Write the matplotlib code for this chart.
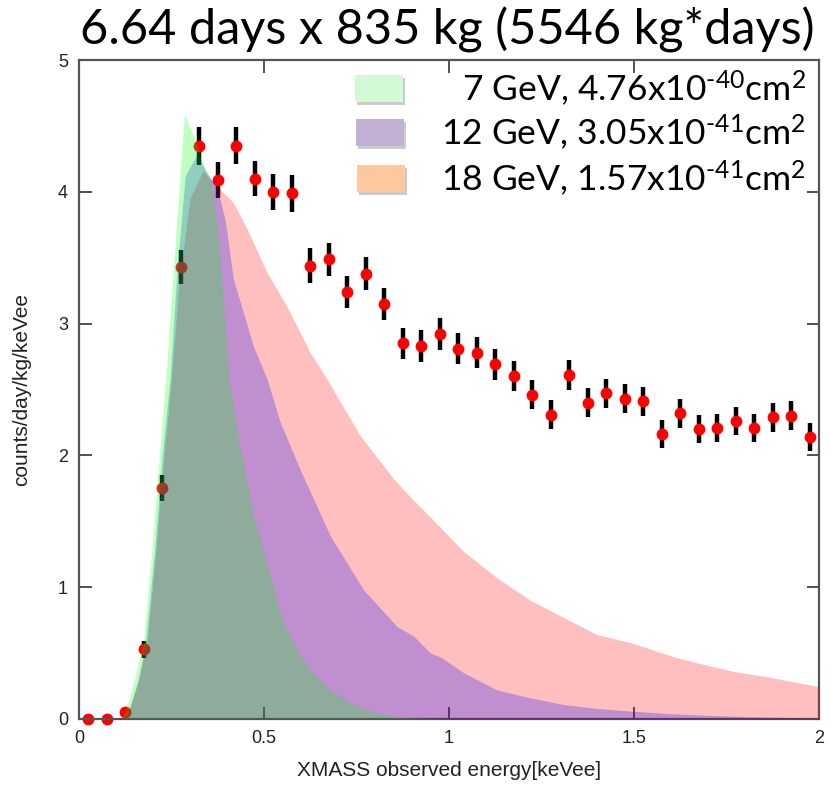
import matplotlib
matplotlib.use("Agg")
import matplotlib.pyplot as plt
from matplotlib.patches import Rectangle
import numpy as np

# measured spectrum (bin centres, rate, error)
energy = [0.025, 0.075, 0.125, 0.175, 0.225, 0.275, 0.325, 0.375, 0.425, 0.475,
          0.525, 0.575, 0.625, 0.675, 0.725, 0.775, 0.825, 0.875, 0.925, 0.975,
          1.025, 1.075, 1.125, 1.175, 1.225, 1.275, 1.325, 1.375, 1.425, 1.475,
          1.525, 1.575, 1.625, 1.675, 1.725, 1.775, 1.825, 1.875, 1.925, 1.975]
rate = [0, 0, 0.05, 0.53, 1.755, 3.43, 4.35, 4.09, 4.35, 4.10,
        4.00, 3.99, 3.44, 3.49, 3.24, 3.38, 3.15, 2.85, 2.83, 2.92,
        2.81, 2.78, 2.69, 2.60, 2.46, 2.31, 2.61, 2.40, 2.47, 2.43,
        2.41, 2.16, 2.32, 2.20, 2.21, 2.26, 2.21, 2.29, 2.30, 2.14]
err = [0, 0, 0.02, 0.065, 0.10, 0.13, 0.145, 0.137, 0.14, 0.135,
       0.135, 0.14, 0.13, 0.125, 0.125, 0.125, 0.12, 0.12, 0.12, 0.12,
       0.12, 0.115, 0.115, 0.115, 0.11, 0.11, 0.115, 0.11, 0.11, 0.11,
       0.11, 0.105, 0.11, 0.105, 0.105, 0.105, 0.105, 0.11, 0.11, 0.105]

# WIMP expected spectra
x_18 = [0.10, 0.13, 0.16, 0.185, 0.21, 0.23, 0.25, 0.27, 0.30, 0.335, 0.37, 0.417,
        0.454, 0.508, 0.562, 0.625, 0.67, 0.76, 0.851, 0.904, 0.95, 1.04, 1.13,
        1.22, 1.31, 1.40, 1.49, 1.61, 1.68, 1.77, 1.86, 2.0]
y_18 = [0, 0.02, 0.28, 0.6, 1.35, 2.0, 2.58, 3.3, 3.95, 4.16, 4.05, 3.92,
        3.72, 3.39, 3.13, 2.78, 2.58, 2.15, 1.82, 1.66, 1.53, 1.27, 1.07,
        0.90, 0.77, 0.64, 0.58, 0.47, 0.42, 0.36, 0.32, 0.245]

x_12 = [0.10, 0.13, 0.16, 0.18, 0.205, 0.225, 0.246, 0.265, 0.287, 0.318, 0.345,
        0.373, 0.395, 0.417, 0.471, 0.508, 0.544, 0.598, 0.679, 0.769, 0.86,
        0.904, 0.95, 0.977, 1.04, 1.13, 1.22, 1.31, 1.40, 1.49, 1.6, 1.7, 1.8,
        1.9, 2.0]
y_12 = [0, 0.02, 0.3, 0.58, 1.3, 2.0, 2.58, 3.4, 4.12, 4.28, 4.15,
        4.03, 3.79, 3.34, 2.83, 2.58, 2.25, 1.89, 1.39, 0.98, 0.70,
        0.63, 0.50, 0.47, 0.35, 0.22, 0.16, 0.11, 0.08, 0.06, 0.04, 0.028, 0.018,
        0.012, 0.008]

x_7 = [0.10, 0.115, 0.125, 0.15, 0.175, 0.20, 0.22, 0.235, 0.26, 0.285, 0.31,
       0.34, 0.36, 0.375, 0.39, 0.405, 0.435, 0.47, 0.51, 0.55, 0.60, 0.633,
       0.68, 0.733, 0.80, 0.85, 0.90, 1.0]
y_7 = [0, 0, 0.05, 0.3, 0.6, 1.38, 2.1, 2.6, 3.6, 4.59, 4.42,
       4.18, 4.05, 3.7, 3.2, 2.58, 2.07, 1.56, 1.16, 0.75, 0.47, 0.35,
       0.22, 0.12, 0.05, 0.02, 0.008, 0]

legend_labels = [r"7 GeV, 4.76x10$^{\text{-}40}$cm$^{2}$",
                 r"12 GeV, 3.05x10$^{\text{-}41}$cm$^{2}$",
                 r"18 GeV, 1.57x10$^{\text{-}41}$cm$^{2}$"]
legend_colors = ["#d3fad5", "#c2b1d4", "#fbc8a0"]

tick_font = ["Liberation Sans Narrow", "Liberation Sans", "DejaVu Sans"]
big_font = ["Lato", "DejaVu Sans"]

plt.rcParams["mathtext.fontset"] = "custom"
plt.rcParams["mathtext.rm"] = "Lato"
plt.rcParams["mathtext.it"] = "Lato"
plt.rcParams["mathtext.default"] = "regular"

fig = plt.figure(figsize=(8.3, 7.92), dpi=100)
ax = fig.add_axes([0.0952, 0.0922, 0.8915, 0.832])

# data first, the transparent model fills go on top of it
ax.errorbar(energy, rate, yerr=err, fmt="o", color="red", ms=7.5,
            ecolor="black", elinewidth=3.2, capsize=0, zorder=2, clip_on=False)

ax.fill_between(x_18, 0, y_18, color=(1, 0, 0), alpha=0.25, lw=0, zorder=3)
ax.fill_between(x_12, 0, y_12, color=(0, 0, 1), alpha=0.25, lw=0, zorder=4)
ax.fill_between(x_7, 0, y_7, color=(0, 1, 0), alpha=0.25, lw=0, zorder=5)

ax.set_xlim(0, 2)
ax.set_ylim(0, 5)
ax.set_xticks([0, 0.5, 1, 1.5, 2])
ax.set_xticklabels(["0", "0.5", "1", "1.5", "2"])
ax.set_yticks([0, 1, 2, 3, 4, 5])
ax.tick_params(direction="in", length=9, width=1.2, color="#333333",
               top=True, right=True, labelsize=13, pad=8)
for lab in ax.get_xticklabels() + ax.get_yticklabels():
    lab.set_family(tick_font)
    lab.set_color("#222222")
for sp in ax.spines.values():
    sp.set_color("#555555")
    sp.set_linewidth(1.6)

ax.set_xlabel("XMASS observed energy[keVee]", family=tick_font, fontsize=15,
              color="#222222", labelpad=10)
ax.set_ylabel("counts/day/kg/keVee", family=tick_font, fontsize=15,
              color="#222222", labelpad=19)

fig.text(0.539, 0.962, "6.64 days x 835 kg (5546 kg*days)", family=big_font,
         fontsize=35, ha="center", va="center", color="black")

# hand made legend in the upper right
row_y = [88, 132, 178]
for i in range(3):
    yc = 1 - row_y[i] / 792
    x0 = (355 + i) / 830
    w = 48 / 830
    h = 27 / 792
    shadow = Rectangle((x0 + 0.003, yc - h / 2 - 0.004), w, h, transform=fig.transFigure,
                       facecolor="#999999", alpha=0.5, edgecolor="none", zorder=6)
    box = Rectangle((x0, yc - h / 2), w, h, transform=fig.transFigure,
                    facecolor=legend_colors[i], edgecolor="none", zorder=7)
    fig.patches.extend([shadow, box])
    fig.text(806 / 830, yc, legend_labels[i], family=big_font, fontsize=25.5,
             ha="right", va="center", color="black", zorder=8)

fig.savefig("out.png", dpi=100)
